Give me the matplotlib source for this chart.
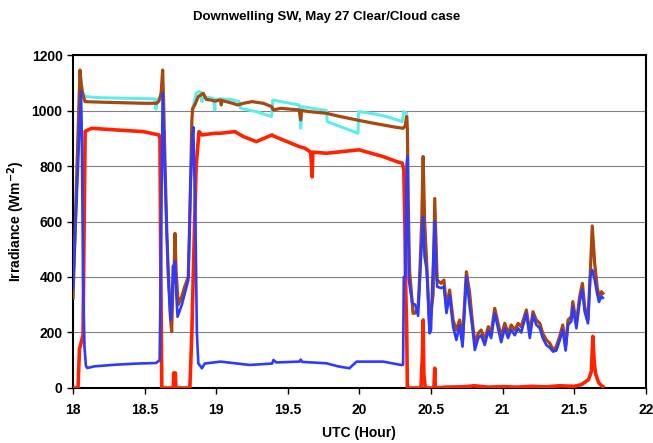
import numpy as np
import matplotlib
matplotlib.use('Agg')
import matplotlib.pyplot as plt

plt.rcParams['font.family'] = ['Liberation Sans', 'DejaVu Sans']
plt.rcParams['font.weight'] = 'bold'
plt.rcParams['mathtext.default'] = 'bf'

nan = np.nan

# global (cyan) - hidden under brown during cloudy periods
cyan_t = [18.0, 18.049, 18.066, 18.084, 18.2, 18.4, 18.57, 18.58, 18.59, 18.605, 18.615,
          18.62,
          18.835, 18.86, 18.88, 18.895, 18.9, 18.905, 18.98, 18.99, 18.995, 19.03, 19.1,
          19.16, 19.17, 19.28, 19.387, 19.395, 19.45, 19.58, 19.59, 19.6, 19.77, 19.775,
          19.99, 19.995, 20.1, 20.19, 20.3, 20.31, 20.33, 20.335, 20.34]
cyan_v = [325, 1140, 1070, 1050, 1046, 1044, 1042, 1005, 1040, 1045, 1060,
          nan,
          1006, 1062, 1068, 1066, 1032, 1050, 1044, 1002, 1040, 1042, 1040,
          1032, 1008, 996, 978, 1038, 1032, 1020, 936, 1014, 1000, 960,
          918, 996, 988, 978, 960, 996, 990, 930, 700]

# brown
brown_t = [18.0, 18.049, 18.056, 18.066, 18.084, 18.2, 18.35, 18.5, 18.584, 18.6, 18.615,
           18.626, 18.634, 18.642, 18.655, 18.665, 18.681, 18.689, 18.695, 18.70, 18.706,
           18.712, 18.72, 18.735, 18.76, 18.78, 18.805, 18.815, 18.83, 18.835, 18.85,
           18.875, 18.91, 18.93, 18.96, 18.99, 19.03, 19.035, 19.04, 19.1, 19.15, 19.19,
           19.25, 19.33, 19.387, 19.398, 19.45, 19.58, 19.59, 19.595, 19.65, 19.77, 19.85,
           19.98, 20.0, 20.1, 20.165, 20.25, 20.305, 20.32, 20.33, 20.335, 20.34, 20.35,
           20.375, 20.39, 20.41, 20.42, 20.435, 20.445, 20.455, 20.48, 20.49, 20.515,
           20.526, 20.543, 20.57, 20.59, 20.608, 20.63, 20.654, 20.677, 20.70, 20.72,
           20.747, 20.77, 20.79, 20.806, 20.83, 20.85, 20.875, 20.9, 20.92, 20.945,
           20.968, 20.99, 21.015, 21.038, 21.06, 21.085, 21.108, 21.13, 21.166, 21.19,
           21.212, 21.235, 21.26, 21.28, 21.305, 21.33, 21.352, 21.375, 21.398, 21.42,
           21.44, 21.457, 21.48, 21.49, 21.515, 21.538, 21.557, 21.573, 21.596, 21.612,
           21.626, 21.643, 21.66, 21.673, 21.69, 21.7]
brown_v = [325, 1146, 1100, 1062, 1032, 1030, 1028, 1026, 1026, 1034, 1060,
           1146, 1000, 822, 560, 420, 250, 203, 320, 440, 420,
           557, 420, 300, 330, 365, 401, 600, 966, 1006, 1020,
           1050, 1062, 1040, 1038, 1034, 1038, 1020, 1036, 1028, 1020, 1026,
           1032, 1026, 1014, 1002, 1008, 1002, 966, 1000, 996, 990, 980,
           966, 964, 954, 948, 940, 936, 945, 978, 930, 700, 425,
           269, 270, 293, 389, 600, 834, 605, 341, 221, 341,
           683, 389, 377, 389, 293, 353, 245, 209, 245, 173,
           419, 341, 233, 161, 197, 209, 173, 221, 197, 287,
           233, 185, 233, 197, 227, 209, 233, 221, 281, 197,
           275, 245, 233, 197, 173, 161, 137, 149, 185, 227,
           149, 245, 257, 311, 233, 329, 377, 293, 245, 413,
           584, 449, 365, 329, 347, 341]

# direct (red)
red_t = [18.0, 18.035, 18.045, 18.06, 18.07, 18.078, 18.085, 18.13, 18.3, 18.49, 18.6,
         18.607, 18.615, 18.62, 18.7, 18.703, 18.715, 18.718, 18.816, 18.83, 18.84,
         18.86, 18.88, 18.9, 18.99, 19.03, 19.13, 19.19, 19.25, 19.28, 19.39, 19.4,
         19.58, 19.62, 19.66, 19.67, 19.675, 19.77, 19.99, 20.0, 20.165, 20.26, 20.3,
         20.31, 20.318, 20.322, 20.33, 20.335, 20.43, 20.44, 20.445, 20.45, 20.46,
         20.52, 20.526, 20.53, 20.6, 20.7, 20.75, 20.8, 20.9, 21.0, 21.1, 21.2, 21.3,
         21.4, 21.5, 21.55, 21.6, 21.62, 21.63, 21.64, 21.65, 21.67, 21.69, 21.7]
red_v = [0, 0, 140, 170, 190, 600, 925, 936, 930, 924, 912,
         900, 300, 0, 0, 54, 54, 0, 0, 200, 413,
         800, 924, 912, 918, 918, 924, 906, 894, 888, 912, 908,
         870, 864, 850, 761, 850, 846, 858, 858, 834, 816, 810,
         786, 581, 389, 221, 0, 0, 120, 245, 50, 0,
         0, 71, 0, 3, 4, 5, 8, 3, 5, 3, 6, 4,
         8, 6, 12, 30, 60, 186, 90, 50, 20, 8, 5]

# diffuse (blue)
blue_t = [18.0, 18.056, 18.062, 18.07, 18.08, 18.09, 18.1, 18.15, 18.3, 18.45, 18.58,
          18.605, 18.61, 18.626, 18.64, 18.665, 18.681, 18.69, 18.70, 18.706, 18.712,
          18.72, 18.73, 18.76, 18.805, 18.82, 18.835, 18.84, 18.855, 18.865, 18.875,
          18.9, 18.92, 19.03, 19.2, 19.235, 19.39, 19.4, 19.42, 19.58, 19.59, 19.6,
          19.77, 19.85, 19.93, 19.97, 19.98, 20.165, 20.29, 20.305, 20.31, 20.32, 20.33,
          20.335, 20.345, 20.37, 20.39, 20.41, 20.425, 20.445, 20.455, 20.47, 20.49,
          20.5, 20.51, 20.526, 20.535, 20.543, 20.57, 20.59, 20.608, 20.63, 20.654,
          20.677, 20.70, 20.72, 20.747, 20.77, 20.79, 20.806, 20.83, 20.85, 20.875,
          20.9, 20.92, 20.945, 20.968, 20.99, 21.015, 21.038, 21.06, 21.085, 21.108,
          21.13, 21.166, 21.19, 21.212, 21.235, 21.26, 21.28, 21.305, 21.33, 21.352,
          21.375, 21.398, 21.42, 21.44, 21.457, 21.48, 21.49, 21.515, 21.538, 21.557,
          21.573, 21.596, 21.612, 21.626, 21.643, 21.66, 21.673, 21.69, 21.7]
blue_v = [360, 1068, 900, 400, 150, 80, 72, 78, 84, 88, 90,
          100, 300, 1062, 800, 401, 245, 300, 437, 380, 456,
          350, 257, 300, 389, 725, 906, 940, 600, 200, 89,
          71, 88, 95, 85, 83, 88, 101, 92, 95, 102, 94,
          89, 78, 71, 90, 95, 95, 83, 83, 400, 401, 810,
          834, 389, 305, 300, 260, 425, 617, 473, 425, 197,
          209, 389, 600, 425, 365, 360, 365, 270, 335, 221,
          173, 225, 149, 401, 293, 215, 137, 180, 190, 155,
          205, 180, 269, 215, 165, 215, 180, 210, 190, 215,
          200, 269, 180, 262, 228, 215, 180, 155, 145, 131,
          135, 170, 210, 135, 228, 240, 293, 215, 310, 355,
          275, 233, 401, 425, 389, 340, 310, 330, 325]

yticks = [0, 200, 400, 600, 800, 1000, 1200]
xticks = [18, 18.5, 19, 19.5, 20, 20.5, 21, 21.5, 22]
xtick_labels = ['18', '18.5', '19', '19.5', '20', '20.5', '21', '21.5', '22']

fig = plt.figure(figsize=(6.53, 4.43), dpi=100)
ax = fig.add_axes([0.1118, 0.1242, 0.8772, 0.7516])

ax.plot(cyan_t, cyan_v, color='#5CEDED', lw=2.2, zorder=2)
ax.plot(brown_t, brown_v, color='#A8480F', lw=2.3, zorder=3)
ax.plot(red_t, red_v, color='#FF2200', lw=2.6, zorder=4)
ax.plot(blue_t, blue_v, color='#2E3BFF', lw=1.9, zorder=5)

ax.set_xlim(18, 22)
ax.set_ylim(0, 1200)
ax.set_xticks(xticks)
ax.set_xticklabels(xtick_labels)
ax.set_yticks(yticks)
ax.yaxis.grid(True, color='#808080', lw=0.8)
ax.set_axisbelow(True)
ax.tick_params(axis='both', labelsize=10, direction='out', length=4, width=1)
ax.tick_params(axis='x', pad=7)
for s in ax.spines.values():
    s.set_linewidth(1.5)

ax.set_xlabel('UTC (Hour)', fontsize=10, fontweight='bold', labelpad=6)
ax.set_ylabel(r'Irradiance (Wm$^{-2}$)', fontsize=10, fontweight='bold', labelpad=3)
fig.suptitle('Downwelling SW, May 27 Clear/Cloud case', fontsize=9.5,
             fontweight='bold', y=0.975)

fig.savefig('out.png', dpi=100)
